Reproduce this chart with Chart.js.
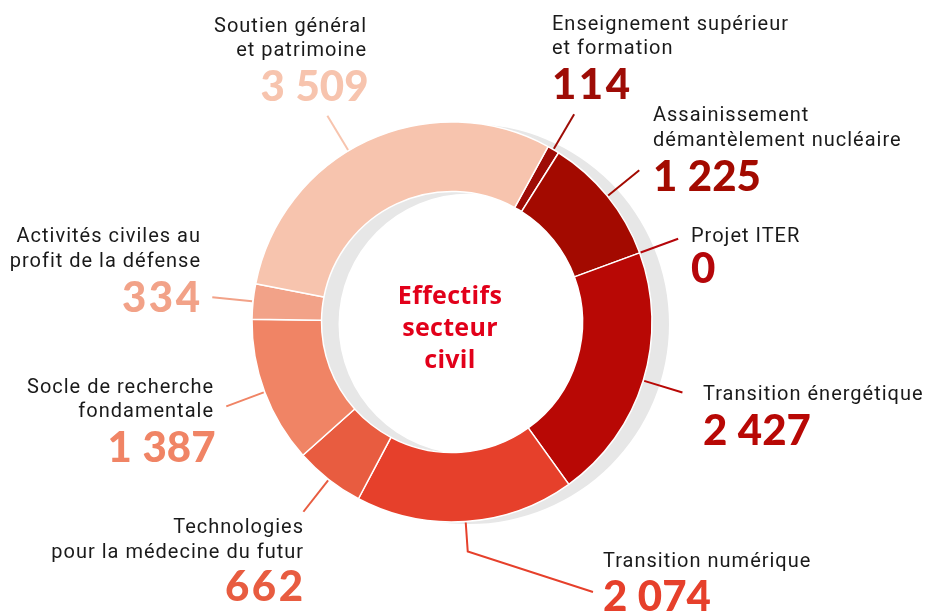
<!DOCTYPE html>
<html>
<meta charset="UTF-8">
<head>
    <title>Effectifs secteur civil</title>
    <script src="https://cdn.jsdelivr.net/npm/chart.js"></script>
    <style>
        html, body { margin: 0; padding: 0; background: #fff; }
        #chartContainer { width: 925px; height: 612px; }
    </style>
</head>
<body>
<div id="chartContainer">
    <canvas id="chart"></canvas>
</div>

<script>
    // Données (sens horaire depuis le haut)
    const categories = [
        'Enseignement supérieur\net formation',
        'Assainissement\ndémantèlement nucléaire',
        'Projet ITER',
        'Transition énergétique',
        'Transition numérique',
        'Technologies\npour la médecine du futur',
        'Socle de recherche\nfondamentale',
        'Activités civiles au\nprofit de la défense',
        'Soutien général\net patrimoine'
    ];
    const values = [114, 1225, 0, 2427, 2074, 662, 1387, 334, 3509];
    const valueLabels = ['114', '1\u202F225', '0', '2\u202F427', '2\u202F074', '662', '1\u202F387', '334', '3\u202F509'];
    const colors = ['#9e0c06', '#a30a00', '#b5060a', '#b80805', '#e6402b', '#e85c40', '#f08465', '#f2a288', '#f7c4ae'];
    const centerTitle = ['Effectifs', 'secteur', 'civil'];

    // Placement des étiquettes (x d'ancrage, lignes de base, alignement)
    const labelLayout = [
        { x: 552, lines: [30, 54], num: 99, align: 'left' },
        { x: 653, lines: [121, 146], num: 191, align: 'left' },
        { x: 691, lines: [242], num: 283, align: 'left' },
        { x: 703, lines: [400], num: 445, align: 'left' },
        { x: 603, lines: [567], num: 611, align: 'left', elbow: true },
        { x: 303, lines: [533, 558], num: 601, align: 'right' },
        { x: 213, lines: [393, 417], num: 462, align: 'right' },
        { x: 200, lines: [242, 267], num: 312, align: 'right' },
        { x: 366, lines: [32, 56], num: 101, align: 'right', nudge: -6 }
    ];

    const textFont = '20px Roboto';
    const numFont = '900 42px Lato';

    // anneau gris décalé derrière le donut
    const shadowRing = {
        id: 'shadowRing',
        beforeDatasetsDraw(chart) {
            const meta = chart.getDatasetMeta(0);
            const arc = meta.data[0];
            const ctx = chart.ctx;
            const cx = arc.x + 17, cy = arc.y + 2;
            const ro = arc.outerRadius, ri = arc.innerRadius;
            ctx.save();
            ctx.fillStyle = '#e7e7e7';
            ctx.beginPath();
            ctx.arc(cx, cy, ro, 0, Math.PI * 2);
            ctx.arc(cx, cy, ri, 0, Math.PI * 2, true);
            ctx.fill('evenodd');
            ctx.restore();
        }
    };

    // traits de rappel, étiquettes et titre central
    const labelsPlugin = {
        id: 'labelsPlugin',
        afterDatasetsDraw(chart) {
            const ctx = chart.ctx;
            const meta = chart.getDatasetMeta(0);
            ctx.save();
            meta.data.forEach((arc, i) => {
                const lay = labelLayout[i];
                let a = (arc.startAngle + arc.endAngle) / 2 + (lay.nudge || 0) * Math.PI / 180;
                const r0 = arc.outerRadius + 1;
                const sx = arc.x + Math.cos(a) * r0;
                const sy = arc.y + Math.sin(a) * r0;
                ctx.strokeStyle = colors[i];
                ctx.lineWidth = 2;
                ctx.beginPath();
                ctx.moveTo(sx, sy);
                if (lay.elbow) {
                    ctx.lineTo(sx + 2, sy + 29);
                    ctx.lineTo(lay.x - 10, lay.num - 19);
                } else {
                    ctx.lineTo(arc.x + Math.cos(a) * (r0 + 40), arc.y + Math.sin(a) * (r0 + 40));
                }
                ctx.stroke();

                const right = lay.align === 'right';
                ctx.textAlign = lay.align;
                ctx.textBaseline = 'alphabetic';
                ctx.fillStyle = '#1a1a1a';
                ctx.font = textFont;
                ctx.letterSpacing = '1px';
                categories[i].split('\n').forEach((t, k) => {
                    ctx.fillText(t, lay.x + (right ? 1 : 0), lay.lines[k]);
                });
                ctx.letterSpacing = '2.5px';
                ctx.fillStyle = colors[i];
                ctx.font = numFont;
                ctx.fillText(valueLabels[i], lay.x + (right ? 2.5 : 0), lay.num);
            });

            const c = meta.data[0];
            ctx.fillStyle = '#e2001a';
            ctx.font = 'bold 25px "Open Sans"';
            ctx.letterSpacing = '0.3px';
            ctx.textAlign = 'center';
            centerTitle.forEach((t, k) => {
                ctx.fillText(t, c.x - 2, 304 + k * 32);
            });
            ctx.restore();
        }
    };

    const ctx = document.getElementById('chart').getContext('2d');
    new Chart(ctx, {
        type: 'doughnut',
        data: {
            labels: categories,
            datasets: [{
                data: values,
                backgroundColor: colors,
                borderColor: '#ffffff',
                borderWidth: 1.5
            }]
        },
        options: {
            responsive: true,
            maintainAspectRatio: false,
            animation: false,
            rotation: 28.7,
            radius: 200,
            cutout: 130,
            layout: { padding: { left: 252, right: 273, top: 122, bottom: 90 } },
            plugins: {
                legend: { display: false },
                tooltip: { enabled: false }
            }
        },
        plugins: [shadowRing, labelsPlugin]
    });
</script>
</body>
</html>
